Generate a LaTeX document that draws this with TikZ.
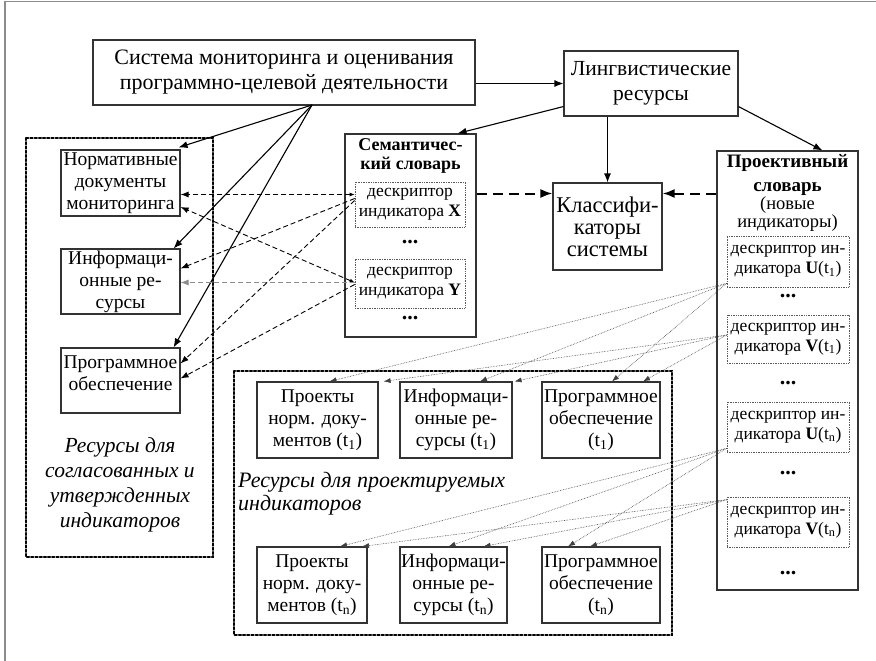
\documentclass[tikz,border=0pt]{standalone}
\usepackage{fontspec}
\setmainfont{Liberation Serif}
\usetikzlibrary{arrows.meta}
\begin{document}
\begin{tikzpicture}[x=1pt,y=-1pt,
  box/.style={draw=black!80, line width=1.1pt, inner sep=0pt, align=center},
  dbox/.style={draw=black!65, line width=0.7pt, densely dotted, inner sep=0pt, align=center},
  cont/.style={draw=black, line width=2.2pt, dotted, line cap=round},
  txt/.style={inner sep=0pt, align=center},
  dots/.style={inner sep=0pt, font=\fontsize{22}{22}\selectfont\bfseries},
  solidarrow/.style={draw=black, line width=1.1pt, -{Latex[length=9pt,width=7pt]}},
  bigdash/.style={draw=black, line width=2pt, dash pattern=on 10pt off 6pt, -{Latex[length=12pt,width=9pt]}},
  dsh/.style={draw=black, line width=0.9pt, dash pattern=on 5pt off 3pt, -{Latex[length=8pt,width=6pt]}},
  gdsh/.style={draw=black!45, line width=0.9pt, dash pattern=on 5pt off 3pt, -{Latex[length=8pt,width=6pt]}},
  dotar/.style={draw=black!75, line width=0.6pt, densely dotted, -{Latex[length=7pt,width=5pt]}},
  fA/.style={font=\fontsize{22}{25}\selectfont},
  fB/.style={font=\fontsize{19.5}{22}\selectfont},
  fC/.style={font=\fontsize{17.5}{20}\selectfont},
  fD/.style={font=\fontsize{22.5}{22}\selectfont},
]
\useasboundingbox (0,0) rectangle (876,661);
\fill[white] (0,0) rectangle (876,661);
\draw[black!45, line width=1.2pt] (5,661) -- (5,1.5) -- (876,1.5);

% containers
\draw[cont] (26,138) rectangle (213,557);
\draw[cont] (234,371) rectangle (672,635);

% top boxes
\node[box, fA, minimum width=382, minimum height=65] (top) at (284,72.5)
  {Система мониторинга и оценивания\\программно-целевой деятельности};
\node[box, font=\fontsize{21.5}{25}\selectfont, minimum width=174, minimum height=65] (lingv) at (651,83.5)
  {Лингвистические\\ресурсы};

% semantic dictionary
\node[box, minimum width=131, minimum height=203] (sem) at (410.5,235.5) {};
\node[txt, font=\fontsize{18}{19}\selectfont\bfseries] (semt) at (410.5,156) {Семантичес-\\кий словарь};
\node[dbox, fC, minimum width=110, minimum height=45] (descX) at (410,204.5)
  {дескриптор\\индикатора \textbf{X}};
\node[dots] (semd1) at (410,242) {...};
\node[dbox, fC, minimum width=110, minimum height=49] (descY) at (410,283.5)
  {дескриптор\\индикатора \textbf{Y}};
\node[dots] (semd2) at (410,318) {...};

% classifiers
\node[box, fD, minimum width=109, minimum height=87] (klass) at (607.5,226.5)
  {Классифи-\\каторы\\системы};

% projective dictionary
\node[box, minimum width=141, minimum height=439] (proj) at (787.5,370.5) {};
\node[txt, font=\fontsize{19}{24}\selectfont\bfseries] (projt1) at (787.5,175) {Проективный\\словарь};
\node[txt, font=\fontsize{18.5}{18}\selectfont] (projt2) at (787.5,214) {(новые\\индикаторы)};
\node[dbox, fC, minimum width=122, minimum height=51] (U1) at (788,261.5)
  {дескриптор ин-\\дикатора \textbf{U}(t\textsubscript{1})};
\node[dots] (pd1) at (788,296) {...};
\node[dbox, fC, minimum width=122, minimum height=48] (V1) at (788,339)
  {дескриптор ин-\\дикатора \textbf{V}(t\textsubscript{1})};
\node[dots] (pd2) at (788,383) {...};
\node[dbox, fC, minimum width=122, minimum height=50] (Un) at (788,427)
  {дескриптор ин-\\дикатора \textbf{U}(t\textsubscript{n})};
\node[dots] (pd3) at (788,473) {...};
\node[dbox, fC, minimum width=122, minimum height=50] (Vn) at (788,522)
  {дескриптор ин-\\дикатора \textbf{V}(t\textsubscript{n})};
\node[dots] (pd4) at (788,573) {...};

% left resources
\node[box, fB, minimum width=119, minimum height=66] (norm) at (120.5,183)
  {Нормативные\\документы\\мониторинга};
\node[box, fB, minimum width=119, minimum height=65] (inf) at (120.5,281.5)
  {Информаци-\\онные ре-\\сурсы};
\node[box, minimum width=119, minimum height=65] (prog) at (120.5,380.5) {};
\node[txt, fB] (progt) at (120.5,373) {Программное\\обеспечение};
\node[txt, font=\fontsize{21.5}{25}\selectfont\itshape] (leftlab) at (120,485)
  {Ресурсы для\\согласованных и\\утвержденных\\индикаторов};

% bottom resources
\node[box, fB, minimum width=121, minimum height=76] (p1) at (317.5,420)
  {Проекты\\норм. доку-\\ментов (t\textsubscript{1})};
\node[box, fB, minimum width=112, minimum height=76] (i1) at (456,420)
  {Информаци-\\онные ре-\\сурсы (t\textsubscript{1})};
\node[box, fB, minimum width=118, minimum height=76] (g1) at (601,420)
  {Программное\\обеспечение\\(t\textsubscript{1})};
\node[txt, font=\fontsize{22}{23}\selectfont\itshape, align=left, anchor=west] (botlab) at (238,493.5)
  {Ресурсы для проектируемых\\индикаторов};
\node[box, fB, minimum width=110, minimum height=76] (pn) at (312,585)
  {Проекты\\норм. доку-\\ментов (t\textsubscript{n})};
\node[box, fB, minimum width=107, minimum height=76] (in) at (453.5,585)
  {Информаци-\\онные ре-\\сурсы (t\textsubscript{n})};
\node[box, fB, minimum width=118, minimum height=76] (gn) at (601,585)
  {Программное\\обеспечение\\(t\textsubscript{n})};

% solid arrows
\coordinate (topsrc) at (312,105);
\draw[solidarrow] (top.east |- lingv.west) -- (lingv.west);
\draw[solidarrow] (topsrc) -- ([xshift=-2pt,yshift=2pt]norm.north east);
\draw[solidarrow] (topsrc) -- ([xshift=-7pt]inf.north east);
\draw[solidarrow] (topsrc) -- ([xshift=-7pt]prog.north east);
\draw[solidarrow] ([yshift=10pt]lingv.south west) -- ([xshift=-19pt]sem.north east);
\draw[solidarrow] (lingv.south -| klass.north) -- (klass.north);
\draw[solidarrow] ([yshift=10pt]lingv.south east) -- ([xshift=106pt]proj.north west);

% thick dashed to classifiers
\coordinate (kA) at ([yshift=33pt]klass.west);
\coordinate (kB) at ([yshift=33pt]klass.east);
\draw[bigdash] (sem.east |- kA) -- (kA);
\draw[bigdash] (proj.west |- kB) -- (kB);

% thin dashed between semantic descriptors and left resources
\coordinate (xa) at ([yshift=10pt]descX.west);
\coordinate (xb) at ([yshift=6pt]descX.west);
\coordinate (xc) at ([yshift=4pt]descX.west);
\coordinate (ya) at ([yshift=1pt]descY.west);
\coordinate (yb) at ([yshift=-1pt]descY.west);
\draw[dsh, {Latex[length=5pt,width=4pt]}-{Latex[length=8pt,width=6pt]}] (xa) -- (norm.east |- xa);
\draw[dsh, {Latex[length=5pt,width=4pt]}-{Latex[length=8pt,width=6pt]}] (ya) -- ([yshift=-24pt]norm.east);
\draw[dsh] (xb) -- ([yshift=13pt]inf.east);
\draw[gdsh] (ya) -- (inf.east |- ya);
\draw[dsh] (xc) -- ([yshift=17pt]prog.east);
\draw[dsh] (yb) -- ([yshift=2pt]prog.east);

% dotted arrows from projective descriptors
\coordinate (su1) at ([yshift=4pt]U1.south west);
\coordinate (sv1) at ([yshift=4pt]V1.west);
\coordinate (sun) at ([yshift=4pt]Un.south west);
\coordinate (svn) at ([yshift=-3pt]Vn.north west);
\draw[dotar] (su1) -- ([xshift=12pt]p1.north);
\draw[dotar] (sv1) -- ([xshift=5pt]p1.north east);
\draw[dotar] (su1) -- ([xshift=24pt]i1.north);
\draw[dotar] (sv1) -- ([xshift=2pt]i1.north east);
\draw[dotar] (su1) -- ([xshift=11pt]g1.north);
\draw[dotar] (sv1) -- ([xshift=42pt]g1.north);
\draw[dotar] (sun) -- ([xshift=28pt]pn.north);
\draw[dotar] (svn) -- ([xshift=50pt]pn.north);
\draw[dotar] (sun) -- ([xshift=-5pt]in.north);
\draw[dotar] (svn) -- ([xshift=30pt]in.north);
\draw[dotar] (sun) -- ([xshift=-33pt]gn.north);
\draw[dotar] (svn) -- ([xshift=-11pt]gn.north);
\end{tikzpicture}
\end{document}
